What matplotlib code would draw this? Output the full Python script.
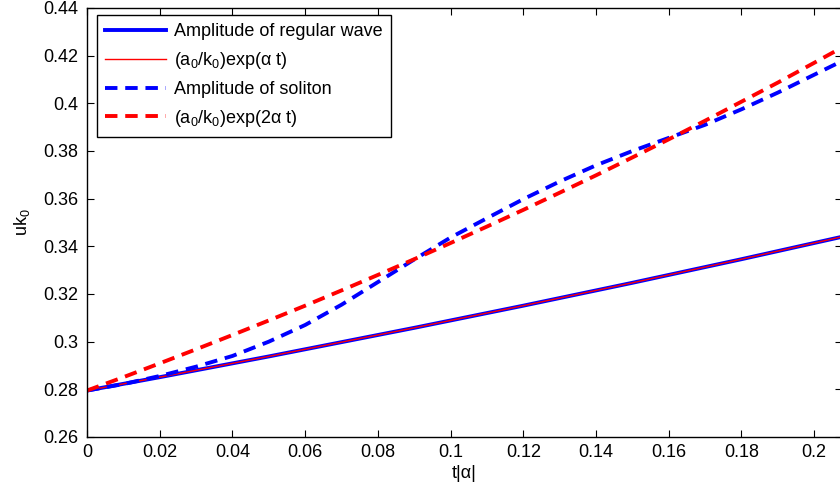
import numpy as np
import matplotlib
matplotlib.use("Agg")
import matplotlib.pyplot as plt

plt.rcParams['font.family'] = ['Liberation Sans', 'DejaVu Sans']
plt.rcParams['mathtext.fontset'] = 'custom'
plt.rcParams['mathtext.rm'] = 'Liberation Sans'
plt.rcParams['mathtext.it'] = 'Liberation Sans'
plt.rcParams['font.size'] = 13

# scaled time t|alpha|
t = [0.00, 0.01, 0.02, 0.03, 0.04, 0.05, 0.06, 0.07, 0.08, 0.09, 0.10,
     0.11, 0.12, 0.13, 0.14, 0.15, 0.16, 0.17, 0.18, 0.19, 0.20, 0.21]

# amplitude of the regular wave and its growth law
regular = [0.2795, 0.2823, 0.2851, 0.2880, 0.2909, 0.2938, 0.2968, 0.2998,
           0.3028, 0.3058, 0.3089, 0.3120, 0.3151, 0.3183, 0.3215, 0.3247,
           0.3280, 0.3313, 0.3346, 0.3380, 0.3414, 0.3448]
growth1 = [0.2795, 0.2823, 0.2851, 0.2880, 0.2909, 0.2938, 0.2968, 0.2998,
           0.3028, 0.3058, 0.3089, 0.3120, 0.3151, 0.3183, 0.3215, 0.3247,
           0.3280, 0.3313, 0.3346, 0.3380, 0.3414, 0.3448]

# amplitude of the soliton and the doubled growth law
soliton = [0.2795, 0.2822, 0.2856, 0.2895, 0.2940, 0.3000, 0.3070, 0.3155,
           0.3250, 0.3345, 0.3437, 0.3518, 0.3598, 0.3672, 0.3740, 0.3800,
           0.3855, 0.3910, 0.3975, 0.4045, 0.4120, 0.4195]
growth2 = [0.2795, 0.2851, 0.2909, 0.2968, 0.3028, 0.3089, 0.3151, 0.3215,
           0.3280, 0.3346, 0.3414, 0.3483, 0.3553, 0.3625, 0.3698, 0.3773,
           0.3849, 0.3927, 0.4007, 0.4087, 0.4170, 0.4254]

fig = plt.figure(figsize=(8.4, 4.93), dpi=100)
ax = fig.add_axes([0.1036, 0.1136, 0.8986, 0.8702])

ax.plot(t, regular, color='#0000ff', linewidth=2.8, label='Amplitude of regular wave')
ax.plot(t, growth1, color='#ff0000', linewidth=1.0, label=r'(a$_0$/k$_0$)exp(α t)')
ax.plot(t, soliton, color='#0000ff', linewidth=2.8, dashes=(3.2, 2.0),
        dash_capstyle='butt', label='Amplitude of soliton')
ax.plot(t, growth2, color='#ff0000', linewidth=2.8, dashes=(3.2, 2.0),
        dash_capstyle='butt', label=r'(a$_0$/k$_0$)exp(2α t)')

ax.set_xlim(0, 0.2076)
ax.set_ylim(0.26, 0.44)
ax.set_xticks(np.arange(0, 0.201, 0.02))
ax.set_xticklabels(['0', '0.02', '0.04', '0.06', '0.08', '0.1', '0.12',
                    '0.14', '0.16', '0.18', '0.2'])
ax.set_yticks(np.arange(0.26, 0.441, 0.02))
ax.set_yticklabels(['0.26', '0.28', '0.3', '0.32', '0.34', '0.36', '0.38',
                    '0.4', '0.42', '0.44'])
ax.tick_params(direction='in', length=5, width=0.8, top=True, right=True,
               labelsize=13)
ax.tick_params(axis='y', pad=6)
ax.tick_params(axis='x', pad=5)
for s in ax.spines.values():
    s.set_linewidth(1.0)

ax.set_xlabel('t|α|', labelpad=3)
ax.set_ylabel('uk$_0$', labelpad=8)

leg = ax.legend(loc='upper left', bbox_to_anchor=(0.013, 0.984), fancybox=False,
                framealpha=1, edgecolor='black', handlelength=3.4,
                handletextpad=0.45, labelspacing=0.55, borderpad=0.45,
                borderaxespad=0, fontsize=13)
leg.get_frame().set_linewidth(1.0)

plt.savefig('out.png', dpi=100)
